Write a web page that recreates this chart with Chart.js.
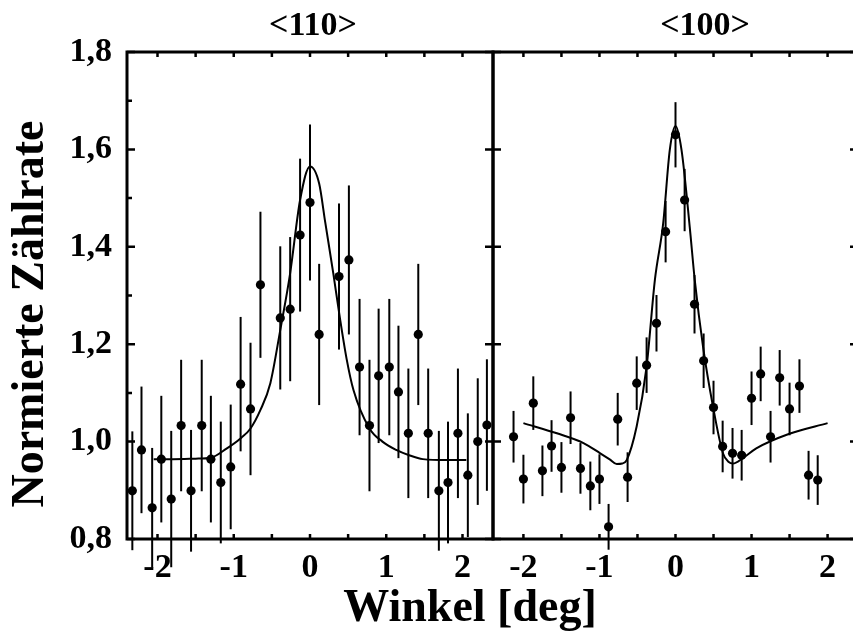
<!DOCTYPE html>
<html><head><meta charset="utf-8">
<script src="https://cdn.jsdelivr.net/npm/chart.js@4.4.0/dist/chart.umd.min.js"></script>
<style>
html,body{margin:0;padding:0;background:#fff;overflow:hidden;width:853px;height:637px;}
#wrap{position:relative;width:853px;height:637px;overflow:hidden;background:#fff;}
#wrap canvas{position:absolute;top:0;}
.t{position:absolute;font-family:'Liberation Serif','Times New Roman',serif;font-weight:bold;color:#000;white-space:nowrap;text-align:center;}
</style></head><body>
<div id="wrap">
<canvas id="cA" width="500" height="637" style="left:0px"></canvas>
<canvas id="cB" width="380" height="637" style="left:487px"></canvas>
<div class="t" style="left:213px;top:7px;width:200px;font-size:34px;line-height:34px;">&lt;110&gt;</div>
<div class="t" style="left:605px;top:7px;width:200px;font-size:34px;line-height:34px;">&lt;100&gt;</div>
<div class="t" style="left:270px;top:583px;width:400px;font-size:46px;line-height:46px;">Winkel [deg]</div>
<div class="t" style="left:-222px;top:291px;width:500px;height:46px;font-size:46px;line-height:46px;transform:rotate(-90deg);">Normierte Zählrate</div>
</div>
<script>
// ---- data: <110> panel ----
const x110 = [-2.33,-2.21,-2.07,-1.95,-1.82,-1.69,-1.56,-1.42,-1.30,-1.17,-1.04,-0.91,-0.78,-0.65,-0.39,-0.26,-0.13,0.00,0.12,0.38,0.51,0.65,0.78,0.90,1.04,1.16,1.29,1.42,1.55,1.69,1.81,1.94,2.07,2.20,2.32];
const y110 = [0.899,0.983,0.864,0.964,0.882,1.033,0.899,1.033,0.964,0.916,0.948,1.118,1.067,1.322,1.254,1.272,1.424,1.491,1.220,1.339,1.373,1.153,1.033,1.135,1.153,1.102,1.017,1.220,1.017,0.899,0.916,1.017,0.931,1.000,1.034];
const e110 = [0.122,0.130,0.123,0.130,0.140,0.135,0.125,0.135,0.130,0.125,0.128,0.138,0.136,0.150,0.147,0.148,0.157,0.160,0.145,0.150,0.153,0.140,0.135,0.138,0.140,0.136,0.133,0.145,0.133,0.123,0.125,0.133,0.127,0.130,0.135];
const fitX110 = [-2.05,-1.8,-1.5,-1.3,-1.1,-0.9,-0.78,-0.65,-0.52,-0.39,-0.26,-0.13,0,0.12,0.2,0.305,0.39,0.48,0.57,0.78,0.95,1.13,1.3,1.48,1.8,2.05];
const fitY110 = [0.964,0.964,0.965,0.967,0.985,1.008,1.027,1.065,1.120,1.229,1.346,1.496,1.565,1.530,1.450,1.346,1.256,1.170,1.106,1.027,1.000,0.983,0.972,0.964,0.962,0.962];

// ---- data: <100> panel ----
const x100 = [-2.13,-2.00,-1.87,-1.75,-1.63,-1.50,-1.38,-1.25,-1.12,-1.00,-0.88,-0.76,-0.63,-0.51,-0.38,-0.25,-0.13,0.00,0.12,0.25,0.37,0.50,0.62,0.75,0.87,1.00,1.12,1.25,1.37,1.50,1.63,1.75,1.87];
const y100 = [1.010,0.923,1.079,0.940,0.991,0.947,1.049,0.945,0.909,0.923,0.825,1.046,0.927,1.120,1.157,1.243,1.431,1.630,1.496,1.282,1.166,1.070,0.990,0.976,0.972,1.089,1.139,1.010,1.131,1.067,1.114,0.931,0.921];
const e100 = [0.053,0.050,0.055,0.052,0.053,0.052,0.054,0.052,0.050,0.051,0.047,0.054,0.051,0.055,0.057,0.058,0.063,0.067,0.064,0.060,0.056,0.055,0.053,0.052,0.052,0.055,0.056,0.053,0.057,0.054,0.055,0.050,0.051];
const fitX100 = [-2.0,-1.56,-1.21,-0.99,-0.86,-0.773,-0.70,-0.642,-0.511,-0.38,-0.271,-0.162,-0.075,0,0.079,0.187,0.253,0.362,0.493,0.624,0.70,0.755,0.886,1.062,1.498,2.0];
const fitY100 = [1.038,1.017,0.997,0.976,0.963,0.954,0.955,0.962,1.031,1.154,1.332,1.448,1.599,1.648,1.599,1.441,1.332,1.195,1.072,0.976,0.958,0.955,0.966,0.986,1.016,1.038];

// ---- ticks ----
const xTickValues = [-2,-1,0,1,2];
const xTickLabels = ['-2','-1','0','1','2'];
const yTickValues = [0.8,1.0,1.2,1.4,1.6,1.8];
const yTickLabels = ['0,8','1,0','1,2','1,4','1,6','1,8'];

const FONT = "'Liberation Serif','Times New Roman',serif";

function errPlugin(errs){
  return {
    id:'errbars',
    beforeDatasetsDraw(chart){
      const ctx = chart.ctx, xs = chart.scales.x, ys = chart.scales.y;
      const d = chart.data.datasets[0].data;
      ctx.save();
      ctx.strokeStyle = '#000';
      ctx.lineWidth = 2;
      d.forEach((p,i)=>{
        const px = xs.getPixelForValue(p.x);
        ctx.beginPath();
        ctx.moveTo(px, ys.getPixelForValue(p.y - errs[i]));
        ctx.lineTo(px, ys.getPixelForValue(p.y + errs[i]));
        ctx.stroke();
      });
      ctx.restore();
    }
  };
}

function framePlugin(sides){
  return {
    id:'frame',
    afterDraw(chart){
      const ctx = chart.ctx, a = chart.chartArea, xs = chart.scales.x, ys = chart.scales.y;
      ctx.save();
      ctx.strokeStyle = '#000';
      ctx.lineWidth = 3;
      ctx.strokeRect(a.left, a.top, a.right - a.left, a.bottom - a.top);
      ctx.lineWidth = 2.5;
      ctx.beginPath();
      for (let v = -2; v <= 2.001; v += 0.5) {
        const px = xs.getPixelForValue(v);
        ctx.moveTo(px, a.top); ctx.lineTo(px, a.top + 5);
        ctx.moveTo(px, a.bottom); ctx.lineTo(px, a.bottom - 5);
      }
      for (let k = 0; k <= 10; k++) {
        const v = 0.8 + k * 0.1;
        const py = ys.getPixelForValue(v);
        const major = (k % 2 === 0);
        const len = major ? 8 : 5;
        if (sides.left && (major || sides.leftMinor)) { ctx.moveTo(a.left, py); ctx.lineTo(a.left + len, py); }
        if (sides.right && major) { ctx.moveTo(a.right, py); ctx.lineTo(a.right - len, py); }
      }
      ctx.stroke();
      ctx.restore();
    }
  };
}

function makeChart(id, xs, ys, es, fx, fy, cfg){
  const pts = xs.map((x,i)=>({x:x, y:ys[i]}));
  const fit = fx.map((x,i)=>({x:x, y:fy[i]}));
  return new Chart(document.getElementById(id), {
    type:'scatter',
    data:{ datasets:[
      { label:'Messwerte', data:pts, pointRadius:4.6, pointHoverRadius:4.6, backgroundColor:'#000', borderColor:'#000', borderWidth:0 },
      { label:'Fit', type:'line', data:fit, showLine:true, pointRadius:0, borderColor:'#000', borderWidth:2, fill:false, cubicInterpolationMode:'monotone' }
    ]},
    options:{
      responsive:false, animation:false, devicePixelRatio:1,
      layout:{ padding:cfg.padding },
      plugins:{ legend:{display:false}, tooltip:{enabled:false}, title:{display:false} },
      scales:{
        x:{ type:'linear', min:-2.4, max:2.4,
            afterBuildTicks:s=>{ s.ticks = xTickValues.map(v=>({value:v})); },
            afterFit:s=>{ s.height = 98; },
            grid:{display:false, drawTicks:false}, border:{display:false},
            ticks:{ padding:9, color:'#000', autoSkip:false, maxRotation:0,
                    font:{family:FONT, size:34, weight:'bold'},
                    callback:(v,i)=>xTickLabels[i] } },
        y:{ type:'linear', min:0.8, max:1.8, display:cfg.showY,
            afterBuildTicks:s=>{ s.ticks = yTickValues.map(v=>({value:v})); },
            afterFit:s=>{ s.width = cfg.showY ? 127 : 0; },
            grid:{display:false, drawTicks:false}, border:{display:false},
            ticks:{ padding:15, color:'#000',
                    font:{family:FONT, size:34, weight:'bold'},
                    callback:(v,i)=>yTickLabels[i] } }
      }
    },
    plugins:[errPlugin(es), framePlugin(cfg.sides)]
  });
}

makeChart('cA', x110, y110, e110, fitX110, fitY110,
  { padding:{left:0, top:52, right:7, bottom:0}, showY:true, sides:{left:true, leftMinor:true, right:true} });
makeChart('cB', x100, y100, e100, fitX100, fitY100,
  { padding:{left:6, top:52, right:9, bottom:0}, showY:false, sides:{left:true, leftMinor:false, right:true} });
</script>
</body></html>
